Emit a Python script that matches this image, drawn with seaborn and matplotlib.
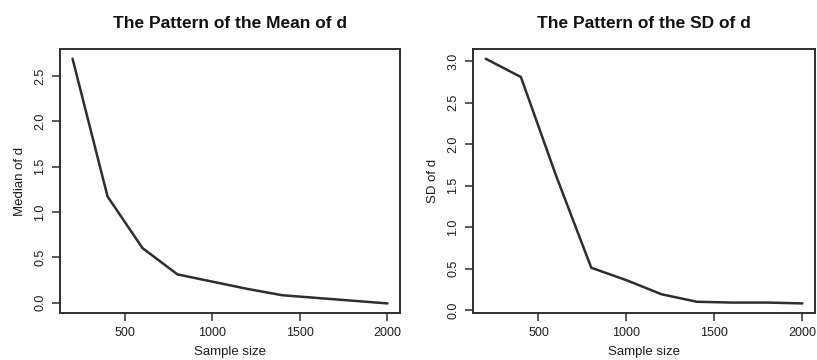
import matplotlib
matplotlib.use("Agg")
import matplotlib.pyplot as plt
import seaborn as sns
import pandas as pd

# Simulation results by sample size
sample_size = [200, 400, 600, 800, 1000, 1200, 1400, 1600, 1800, 2000]
mean_d = [2.69, 1.17, 0.60, 0.31, 0.23, 0.15, 0.08, 0.05, 0.02, -0.01]
sd_d = [3.03, 2.81, 1.62, 0.51, 0.36, 0.19, 0.10, 0.09, 0.09, 0.08]

titles = ["The Pattern of the Mean of d", "The Pattern of the SD of d"]
ylabels = ["Median of d", "SD of d"]
xlabel = "Sample size"
xticks = [500, 1000, 1500, 2000]
yticks_mean = [0.0, 0.5, 1.0, 1.5, 2.0, 2.5]
yticks_sd = [0.0, 0.5, 1.0, 1.5, 2.0, 2.5, 3.0]

sns.set_theme(style="white")
plt.rcParams["font.family"] = ["Liberation Sans", "DejaVu Sans"]

df = pd.DataFrame({"n": sample_size, "mean": mean_d, "sd": sd_d})

fig = plt.figure(figsize=(8.17, 3.6), dpi=100)
ax1 = fig.add_axes([0.0734, 0.130, 0.4162, 0.734])
ax2 = fig.add_axes([0.579, 0.130, 0.4186, 0.734])

ink = "#2e2e2e"
txt = "#1e1e1e"
for ax, col, title, ylab, yt in [
    (ax1, "mean", titles[0], ylabels[0], yticks_mean),
    (ax2, "sd", titles[1], ylabels[1], yticks_sd),
]:
    sns.lineplot(data=df, x="n", y=col, ax=ax, color=ink, linewidth=1.8)
    vals = df[col]
    lo, hi = vals.min(), vals.max()
    pad = 0.04 * (hi - lo)
    ax.set_ylim(lo - pad, hi + pad)
    xpad = 0.04 * (max(sample_size) - min(sample_size))
    ax.set_xlim(min(sample_size) - xpad, max(sample_size) + xpad)
    ax.set_xticks(xticks)
    ax.set_yticks(yt)
    ax.set_yticklabels([f"{v:.1f}" for v in yt], rotation=90, va="center")
    ax.set_xticklabels([str(v) for v in xticks])
    ax.tick_params(axis="both", which="major", direction="out", length=6,
                   width=1.1, color=ink, labelsize=9, labelcolor=txt,
                   left=True, bottom=True, pad=4)
    for s in ax.spines.values():
        s.set_color(ink)
        s.set_linewidth(1.4)
        s.set_visible(True)
    ax.set_title(title, fontsize=12.5, fontweight="bold", pad=15, color="#111111")
    ax.set_xlabel(xlabel, fontsize=9.5, color=txt, labelpad=5)
    ax.set_ylabel(ylab, fontsize=9.5, color=txt, labelpad=6)

fig.savefig("out.png", dpi=100, facecolor="white")
